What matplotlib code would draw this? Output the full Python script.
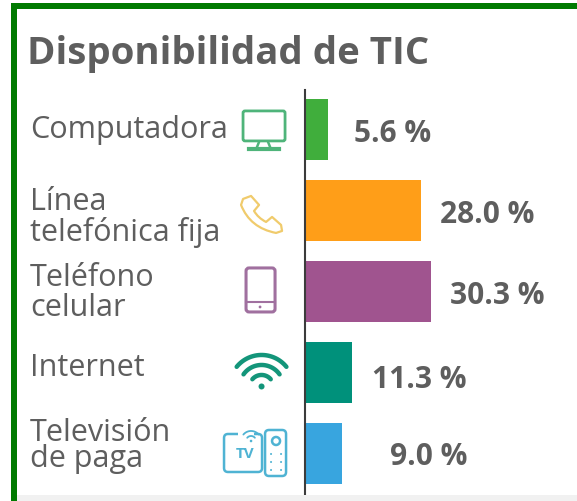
import numpy as np
import matplotlib
matplotlib.use('Agg')
import matplotlib.pyplot as plt
from matplotlib.patches import Rectangle, FancyBboxPatch, Circle, PathPatch
from matplotlib.path import Path

# data
categories = ['Computadora', 'Línea\ntelefónica fija', 'Teléfono\ncelular', 'Internet', 'Televisión\nde paga']
values = [5.6, 28.0, 30.3, 11.3, 9.0]
value_labels = ['5.6 %', '28.0 %', '30.3 %', '11.3 %', '9.0 %']
colors = ['#40AE3C', '#FF9E18', '#A0548F', '#00917B', '#38A5DF']

W, H = 577, 501
GRAY = '#5E5E5E'
plt.rcParams['font.family'] = ['Open Sans', 'DejaVu Sans']

fig = plt.figure(figsize=(W / 100 + 0.001, H / 100 + 0.001), dpi=100)

# overlay in pixels, for the frame, text and icons
ov = fig.add_axes([0, 0, 1, 1], zorder=2)
ov.set_xlim(0, W)
ov.set_ylim(H, 0)
ov.axis('off')
ov.patch.set_alpha(0)

# bars
top, bottom, left = 90, 495, 305
ax = fig.add_axes([left / W, 1 - bottom / H, 1 - left / W, (bottom - top) / H], zorder=1)
ax.barh(range(len(values)), values, height=0.75, color=colors)
ax.set_xlim(0, (W - left) / 4.158)
ax.set_ylim((bottom - 129.5) / 81, (top - 129.5) / 81)
ax.set_xticks([])
ax.set_yticks([])
for s in ['top', 'right', 'bottom']:
    ax.spines[s].set_visible(False)
ax.spines['left'].set_linewidth(1.5)
ax.spines['left'].set_color('#3C3C3C')

# value labels, gap to bar end differs for each one
gaps = [26, 19, 19, 20, 48]
nudge = [4, 4, 4, 7, 3]
for i, v in enumerate(values):
    ax.annotate(value_labels[i], (v, i), xytext=(gaps[i] * 0.72, -nudge[i] * 0.72),
                textcoords='offset points', ha='left', va='center',
                fontsize=21.5, fontweight='bold', color=GRAY)

# frame
ov.add_patch(Rectangle((11, 3), 6, 498, color='#007A00', lw=0))
ov.add_patch(Rectangle((11, 3), 566, 6, color='#007A00', lw=0))
ov.add_patch(Rectangle((17, 495), 560, 6, color='#F1F1F1', lw=0))

# title and left labels
ov.text(27, 54, 'Disponibilidad de TIC', fontsize=27.6, fontweight='bold', color=GRAY,
        ha='left', va='center')
label_y = [130, 217, 293, 368, 446]
spacing = [1.0, 1.0, 1.0, 1.0, 0.86]
for name, y, sp in zip(categories, label_y, spacing):
    ov.text(30, y, name, fontsize=22, color=GRAY, ha='left', va='center', linespacing=sp)


def rbox(x0, y0, x1, y1, r, color, lw):
    ov.add_patch(FancyBboxPatch((x0 + r, y0 + r), x1 - x0 - 2 * r, y1 - y0 - 2 * r,
                                boxstyle='round,pad=%f,rounding_size=%f' % (r, r),
                                fc='none', ec=color, lw=lw))


def arc(cx, cy, r, half, color, lw):
    t = np.radians(np.linspace(-half, half, 30))
    ov.plot(cx + r * np.sin(t), cy - r * np.cos(t), color=color, lw=lw, solid_capstyle='round')


# monitor icon
c = '#4FB47A'
rbox(243, 111, 285, 141, 2, c, 2.0)
ov.plot([259, 257], [142, 147], color=c, lw=1.8)
ov.plot([268, 270], [142, 147], color=c, lw=1.8)
ov.plot([249, 279], [149, 149], color=c, lw=3)

# handset icon
c = '#F0CB6C'
verts = [(251, 196), (259, 205), (254, 211), (258, 218), (266, 222), (272, 217), (281, 225),
         (282, 231), (276, 233), (250, 228), (241, 205), (243, 199), (251, 196)]
codes = [Path.MOVETO, Path.LINETO, Path.LINETO, Path.CURVE3, Path.CURVE3, Path.LINETO, Path.LINETO,
         Path.LINETO, Path.LINETO, Path.CURVE3, Path.CURVE3, Path.LINETO, Path.CLOSEPOLY]
ov.add_patch(PathPatch(Path(verts, codes), fc='none', ec=c, lw=1.6, joinstyle='round'))

# cell phone icon
c = '#A0709F'
rbox(246, 268, 275, 312, 3, c, 2.2)
ov.plot([246, 275], [302, 302], color=c, lw=1.5)
ov.add_patch(Circle((260, 307), 1.4, color=c, lw=0))

# wifi icon
c = '#13957A'
for r, half in [(12, 50), (22, 55), (32, 51)]:
    arc(261.5, 387, r, half, c, 3.2)
ov.add_patch(Circle((261.5, 386.5), 3, color=c, lw=0))

# tv icon
c = '#4FB3D3'
rbox(224, 434, 262, 472, 4, c, 1.8)
ov.add_patch(Rectangle((238, 431), 16, 6, color='white', lw=0))
ov.text(245, 454, 'TV', fontsize=11, fontweight='bold', color=c, ha='center', va='center')
for r, half in [(5, 50), (10, 50)]:
    arc(251, 441, r, half, c, 1.3)
ov.add_patch(Circle((251, 441), 1.3, color=c, lw=0))
rbox(265, 430, 286, 476, 4, c, 1.8)
ov.add_patch(Circle((276, 441), 4, fc='none', ec=c, lw=1.8))
for dy in [454, 462, 470]:
    for dx in [271, 281]:
        ov.add_patch(Circle((dx, dy), 1, color=c, lw=0))

fig.savefig('out.png', dpi=100)
